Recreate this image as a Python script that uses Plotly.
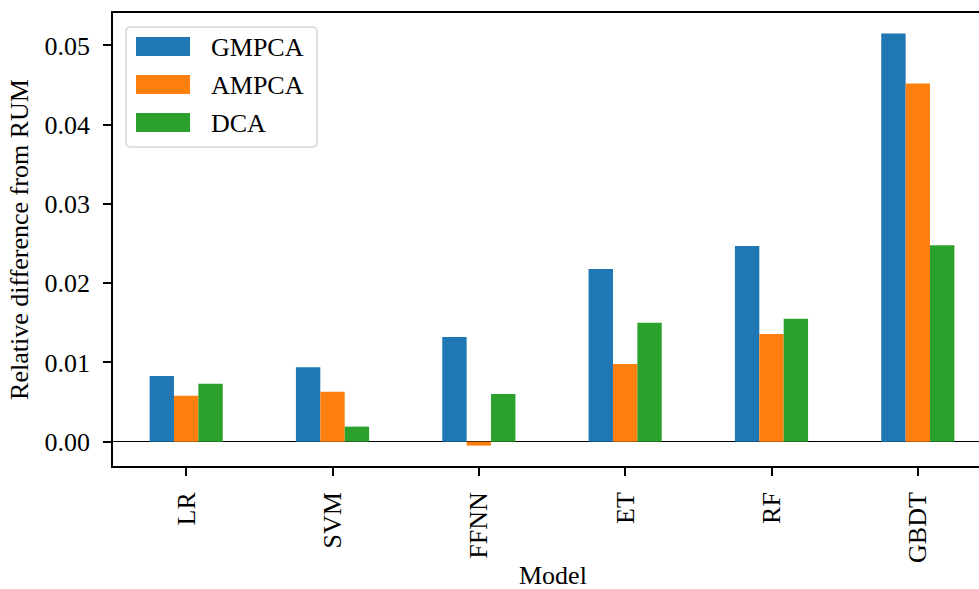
import plotly.graph_objects as go

models = ["LR", "SVM", "FFNN", "ET", "RF", "GBDT"]
series_names = ["GMPCA", "AMPCA", "DCA"]
gmpca = [0.0083, 0.0094, 0.0132, 0.0218, 0.0247, 0.0515]
ampca = [0.0058, 0.0063, -0.0005, 0.0098, 0.0136, 0.0452]
dca = [0.0073, 0.0019, 0.0060, 0.0150, 0.0155, 0.0248]
colors = ["#1f77b4", "#ff7f0e", "#2ca02c"]
yticks = [0.00, 0.01, 0.02, 0.03, 0.04, 0.05]
ytick_text = ["0.00", "0.01", "0.02", "0.03", "0.04", "0.05"]

W, H = 979, 589
ML, MR, MT, MB = 113, 0, 13, 123
FONT = "Liberation Serif, Times New Roman, serif"
FS = 26

fig = go.Figure()
for name, vals, col in zip(series_names, [gmpca, ampca, dca], colors):
    fig.add_trace(go.Bar(x=models, y=vals, name=name, marker_color=col,
                         marker_line_width=0, showlegend=False))

pw = W - ML - MR
ph = H - MT - MB
def px_x(px):
    return (px - ML) / pw
def px_y(py):
    return (H - MB - py) / ph

# manual legend (matplotlib-style)
shapes = []
annotations = []
bx0, bx1, by0, by1 = 126, 317, 27, 147
r = 5
x0, x1 = px_x(bx0), px_x(bx1)
y0, y1 = px_y(by1), px_y(by0)
rx, ry = r / pw, r / ph
path = (f"M {x0+rx},{y0} L {x1-rx},{y0} Q {x1},{y0} {x1},{y0+ry} "
        f"L {x1},{y1-ry} Q {x1},{y1} {x1-rx},{y1} L {x0+rx},{y1} "
        f"Q {x0},{y1} {x0},{y1-ry} L {x0},{y0+ry} Q {x0},{y0} {x0+rx},{y0} Z")
shapes.append(dict(type="path", xref="paper", yref="paper", path=path,
                   fillcolor="rgba(255,255,255,0.8)",
                   line=dict(color="#d6d6d6", width=1.5), layer="above"))
for i, (name, col) in enumerate(zip(series_names, colors)):
    cy = 46.5 + i * 38
    shapes.append(dict(type="rect", xref="paper", yref="paper",
                       x0=px_x(136), x1=px_x(190),
                       y0=px_y(cy + 9.5), y1=px_y(cy - 9.5),
                       fillcolor=col, line=dict(width=0), layer="above"))
    annotations.append(dict(xref="paper", yref="paper", x=px_x(209), y=px_y(cy + 1),
                            text=name, showarrow=False, xanchor="left", yanchor="middle",
                            font=dict(family=FONT, size=FS, color="black")))

# x-axis title, centred on the full (partly off-screen) axes as in the reference
annotations.append(dict(xref="paper", yref="paper", x=px_x(553), y=px_y(575),
                        text="Model", showarrow=False, xanchor="center", yanchor="middle",
                        font=dict(family=FONT, size=FS, color="black")))

fig.update_layout(
    width=W, height=H,
    margin=dict(l=ML, r=MR, t=MT, b=MB, autoexpand=False),
    paper_bgcolor="white", plot_bgcolor="white",
    barmode="group", bargap=0.5, bargroupgap=0,
    font=dict(family=FONT, size=FS, color="black"),
    shapes=shapes, annotations=annotations,
    showlegend=False,
)
fig.update_xaxes(
    range=[-0.5, 5.418], showgrid=False, zeroline=False,
    showline=True, linecolor="black", linewidth=1.5, mirror=True,
    ticks="outside", ticklen=8, tickwidth=1.5, tickcolor="black",
    tickangle=-90, ticklabelstandoff=6,
    tickfont=dict(family=FONT, size=FS, color="black"),
)
fig.update_yaxes(
    range=[-0.00307, 0.05409], showgrid=False,
    zeroline=True, zerolinecolor="black", zerolinewidth=1,
    showline=True, linecolor="black", linewidth=1.5, mirror=False,
    ticks="outside", ticklen=8, tickwidth=1.5, tickcolor="black",
    tickvals=yticks, ticktext=ytick_text, ticklabelstandoff=8,
    tickfont=dict(family=FONT, size=FS, color="black"),
    title=dict(text="Relative difference from RUM", standoff=8,
               font=dict(family=FONT, size=FS, color="black")),
)
fig.write_html("out.html")
